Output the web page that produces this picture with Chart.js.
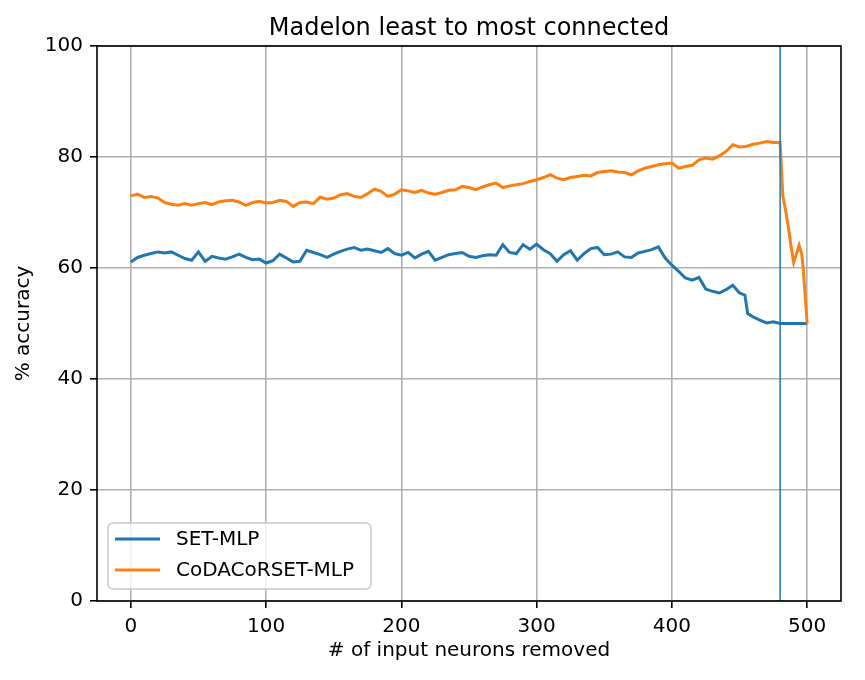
<!DOCTYPE html>
<html>
<head>
<meta charset="utf-8">
<script src="https://cdn.jsdelivr.net/npm/chart.js@4.4.1/dist/chart.umd.min.js"></script>
<style>
  body { margin: 0; background: #fff; }
  #wrap { width: 865px; height: 680px; }
</style>
</head>
<body>
<div id="wrap"><canvas id="myChart" width="865" height="680"></canvas></div>
<script>
// data (x = # of input neurons removed)
var removed = [
  0, 5, 10, 15, 20, 25, 30, 35, 40, 45,
  50, 55, 60, 65, 70, 75, 80, 85, 90, 95,
  100, 105, 110, 115, 120, 125, 130, 135, 140, 145,
  150, 155, 160, 165, 170, 175, 180, 185, 190, 195,
  200, 205, 210, 215, 220, 225, 230, 235, 240, 245,
  250, 255, 260, 265, 270, 275, 280, 285, 290, 295,
  300, 305, 310, 315, 320, 325, 330, 335, 340, 345,
  350, 355, 360, 365, 370, 375, 380, 385, 390, 395,
  400, 405, 410, 415, 420, 425, 430, 435, 440, 445,
  450, 454, 456, 460, 465, 470, 475, 480,
  481, 482, 484, 486, 488, 490, 492, 494, 496, 497, 500
];
var setMlp = [
  61.1, 61.9, 62.3, 62.6, 62.9, 62.7, 62.9, 62.3, 61.7, 61.4,
  62.9, 61.2, 62.1, 61.8, 61.6, 62.0, 62.5, 61.9, 61.5, 61.6,
  60.9, 61.3, 62.5, 61.8, 61.1, 61.2, 63.2, 62.8, 62.4, 61.9,
  62.5, 63.0, 63.4, 63.7, 63.2, 63.4, 63.1, 62.8, 63.5, 62.6,
  62.3, 62.8, 61.8, 62.5, 63.0, 61.4, 61.9, 62.4, 62.6, 62.8,
  62.1, 61.9, 62.2, 62.4, 62.3, 64.2, 62.8, 62.6, 64.2, 63.4,
  64.3, 63.3, 62.6, 61.2, 62.4, 63.1, 61.4, 62.6, 63.5, 63.7,
  62.4, 62.5, 62.9, 62.0, 61.9, 62.7, 63.0, 63.3, 63.8, 61.8,
  60.5, 59.4, 58.2, 57.8, 58.3, 56.2, 55.8, 55.5, 56.1, 56.9,
  55.5, 55.1, 51.8, 51.2, 50.6, 50.1, 50.3, 50.0,
  50, 50, 50, 50, 50, 50, 50, 50, 50, 50, 50
];
var codaMlp = [
  73.0, 73.3, 72.7, 72.9, 72.6, 71.8, 71.5, 71.3, 71.6, 71.3,
  71.6, 71.8, 71.4, 71.9, 72.1, 72.2, 71.9, 71.3, 71.8, 72.0,
  71.7, 71.8, 72.2, 72.0, 71.1, 71.8, 71.9, 71.6, 72.8, 72.4,
  72.6, 73.2, 73.4, 72.9, 72.7, 73.4, 74.2, 73.8, 72.9, 73.3,
  74.1, 73.9, 73.6, 74.0, 73.5, 73.3, 73.6, 74.0, 74.1, 74.7,
  74.5, 74.1, 74.6, 75.0, 75.3, 74.5, 74.8, 75.0, 75.2, 75.6,
  75.9, 76.3, 76.8, 76.2, 75.9, 76.3, 76.5, 76.7, 76.6, 77.2,
  77.4, 77.5, 77.3, 77.2, 76.8, 77.5, 78.0, 78.3, 78.6, 78.8,
  78.9, 78.0, 78.3, 78.5, 79.5, 79.8, 79.6, 80.2, 81.0, 82.2,
  81.8, 81.9, 82.0, 82.3, 82.5, 82.8, 82.6, 82.6,
  78.0, 73.0, 70.4, 67.5, 64.0, 61.0, 62.5, 64.1, 62.5, 60.0, 50.0
];
var cutoff = 480;
var xTicks = [0, 100, 200, 300, 400, 500];
var yTicks = [0, 20, 40, 60, 80, 100];
var chartTitle = "Madelon least to most connected";

function toPoints(xs, ys) {
  var pts = [];
  for (var i = 0; i < xs.length; i++) {
    pts.push({ x: xs[i], y: ys[i] });
  }
  return pts;
}

Chart.defaults.font.family = "'DejaVu Sans', sans-serif";
Chart.defaults.font.size = 20;
Chart.defaults.color = "#000";

// title over the plot area + black frame + legend box inside the axes
var framePlugin = {
  id: "frame",
  afterDatasetsDraw: function (chart) {
    var a = chart.chartArea;
    var ctx = chart.ctx;
    ctx.save();
    ctx.strokeStyle = "#000";
    ctx.lineWidth = 1.6;
    ctx.strokeRect(a.left, a.top, a.right - a.left, a.bottom - a.top);
    ctx.restore();
  },
  afterDraw: function (chart) {
    var a = chart.chartArea;
    var ctx = chart.ctx;
    ctx.save();
    ctx.fillStyle = "#000";
    ctx.font = "24px 'DejaVu Sans', sans-serif";
    ctx.textAlign = "center";
    ctx.textBaseline = "alphabetic";
    ctx.fillText(chartTitle, (a.left + a.right) / 2, 35);

    // legend
    var items = chart.data.datasets.filter(function (d) { return d.label; });
    var bx = 108, by = 523, bw = 263, bh = 66, r = 5;
    ctx.beginPath();
    ctx.moveTo(bx + r, by);
    ctx.arcTo(bx + bw, by, bx + bw, by + bh, r);
    ctx.arcTo(bx + bw, by + bh, bx, by + bh, r);
    ctx.arcTo(bx, by + bh, bx, by, r);
    ctx.arcTo(bx, by, bx + bw, by, r);
    ctx.closePath();
    ctx.fillStyle = "rgba(255,255,255,0.8)";
    ctx.fill();
    ctx.strokeStyle = "#cccccc";
    ctx.lineWidth = 1.5;
    ctx.stroke();

    ctx.font = "20px 'DejaVu Sans', sans-serif";
    ctx.textAlign = "left";
    ctx.textBaseline = "middle";
    items.forEach(function (d, i) {
      var y = 539 + i * 31;
      ctx.strokeStyle = d.borderColor;
      ctx.lineWidth = 3;
      ctx.beginPath();
      ctx.moveTo(115, y);
      ctx.lineTo(160, y);
      ctx.stroke();
      ctx.fillStyle = "#000";
      ctx.fillText(d.label, 176, y + 1);
    });
    ctx.restore();
  }
};

new Chart("myChart", {
  type: "line",
  data: {
    datasets: [
      {
        label: "SET-MLP",
        data: toPoints(removed, setMlp),
        borderColor: "#1f77b4",
        borderWidth: 3,
        pointRadius: 0,
        order: 2
      },
      {
        label: "CoDACoRSET-MLP",
        data: toPoints(removed, codaMlp),
        borderColor: "#ff7f0e",
        borderWidth: 3,
        pointRadius: 0,
        order: 1
      },
      {
        label: "",
        data: [{ x: cutoff, y: yTicks[0] }, { x: cutoff, y: yTicks[yTicks.length - 1] }],
        borderColor: "#1f77b4",
        borderWidth: 1.5,
        pointRadius: 0,
        order: 0
      }
    ]
  },
  options: {
    responsive: false,
    animation: false,
    devicePixelRatio: 1,
    layout: { padding: { top: 46, right: 24, left: 0, bottom: 0 } },
    plugins: {
      legend: { display: false },
      title: { display: false },
      tooltip: { enabled: false }
    },
    scales: {
      x: {
        type: "linear",
        min: -25,
        max: 525,
        afterFit: function (scale) { scale.height = 79; },
        afterBuildTicks: function (scale) {
          scale.ticks = xTicks.map(function (v) { return { value: v }; });
        },
        ticks: { padding: 7, maxRotation: 0, autoSkip: false },
        grid: { color: "#b0b0b0", lineWidth: 1.6, tickLength: 7, tickColor: "#000", tickWidth: 1.6 },
        border: { display: false },
        title: {
          display: true,
          text: "# of input neurons removed",
          padding: { top: 0, bottom: 17 }
        }
      },
      y: {
        min: 0,
        max: 100,
        afterFit: function (scale) { scale.width = 97; },
        afterBuildTicks: function (scale) {
          scale.ticks = yTicks.map(function (v) { return { value: v }; });
        },
        ticks: { padding: 7, autoSkip: false },
        grid: { color: "#b0b0b0", lineWidth: 1.6, tickLength: 7, tickColor: "#000", tickWidth: 1.6 },
        border: { display: false },
        title: {
          display: true,
          text: "% accuracy",
          padding: { top: 12, bottom: 0 }
        }
      }
    }
  },
  plugins: [framePlugin]
});
</script>
</body>
</html>
